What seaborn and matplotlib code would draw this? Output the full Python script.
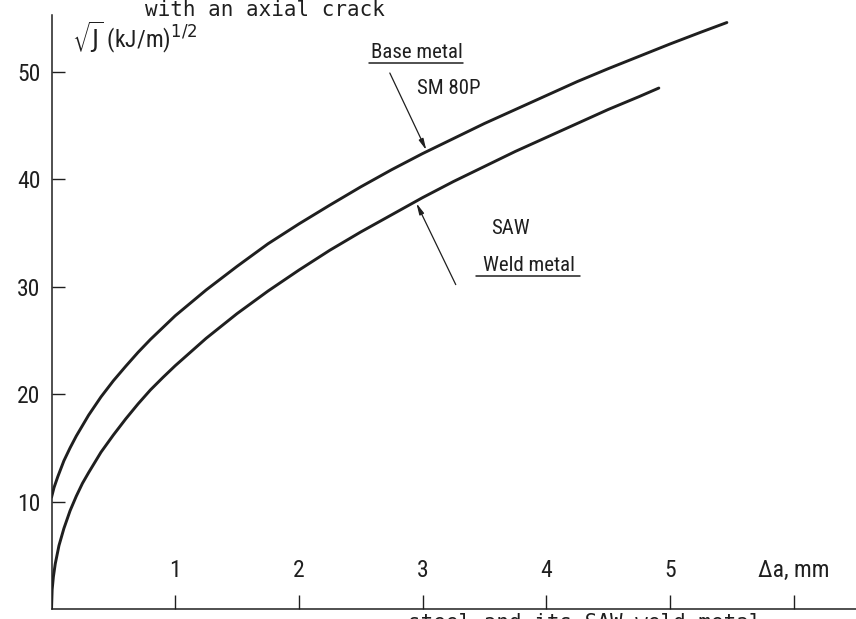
import numpy as np
import matplotlib
matplotlib.use("Agg")
import matplotlib.pyplot as plt
from matplotlib import font_manager as fm
from matplotlib.lines import Line2D
import seaborn as sns

# R-curves: crack extension (mm) against sqrt(J) in (kJ/m)^1/2
base_da = [0, 0.02, 0.05, 0.1, 0.15, 0.2, 0.3, 0.4, 0.5, 0.6, 0.7, 0.8, 0.9,
           1.0, 1.25, 1.5, 1.75, 2.0, 2.25, 2.5, 2.75, 3.0, 3.25, 3.5, 3.75,
           4.0, 4.25, 4.5, 4.75, 5.0, 5.25, 5.46]
base_sqrtj = [10.4, 11.3, 12.3, 13.8, 15.0, 16.1, 18.05, 19.75, 21.25, 22.6,
              23.9, 25.1, 26.2, 27.3, 29.7, 31.9, 34.0, 35.85, 37.6, 39.3, 40.9,
              42.4, 43.8, 45.2, 46.5, 47.8, 49.1, 50.3, 51.45, 52.6, 53.7, 54.6]

weld_da = [0, 0.005, 0.015, 0.03, 0.06, 0.1, 0.15, 0.2, 0.25, 0.3, 0.4, 0.5,
           0.6, 0.7, 0.8, 0.9, 1.0, 1.25, 1.5, 1.75, 2.0, 2.25, 2.5, 2.75, 3.0,
           3.25, 3.5, 3.75, 4.0, 4.25, 4.5, 4.75, 4.91]
weld_sqrtj = [0, 1.8, 3.0, 4.2, 5.9, 7.5, 9.15, 10.5, 11.7, 12.7, 14.6, 16.2,
              17.7, 19.1, 20.4, 21.55, 22.65, 25.2, 27.5, 29.6, 31.55, 33.4,
              35.1, 36.7, 38.3, 39.8, 41.2, 42.6, 43.9, 45.2, 46.5, 47.7, 48.5]

x_ticks = [1, 2, 3, 4, 5, 6]
x_tick_labels = ["1", "2", "3", "4", "5", "Δa, mm"]
y_ticks = [10, 20, 30, 40, 50]

INK = "#1f1f1f"

sns.set_theme(style="white", rc={"axes.edgecolor": INK, "axes.linewidth": 1.1,
                                 "xtick.color": INK, "ytick.color": INK,
                                 "text.color": INK, "axes.labelcolor": INK})


def font_present(name, stretch=None):
    for f in fm.fontManager.ttflist:
        if f.name == name and (stretch is None or f.stretch == stretch):
            return True
    return False


# narrow lettering for the drawing labels
if font_present("Roboto Condensed"):
    plt.rcParams["font.family"] = ["Roboto Condensed", "DejaVu Sans"]
elif font_present("DejaVu Sans", "condensed"):
    plt.rcParams["font.family"] = ["DejaVu Sans"]
    plt.rcParams["font.stretch"] = "condensed"
elif font_present("Liberation Sans Narrow"):
    plt.rcParams["font.family"] = ["Liberation Sans Narrow", "DejaVu Sans"]
else:
    plt.rcParams["font.family"] = ["DejaVu Sans"]

FS = 15
TICK_FS = 17

fig = plt.figure(figsize=(8.56, 6.19), dpi=100)
fig.patch.set_facecolor("white")
ax = fig.add_axes([0.0602, 0.01616, 0.9398, 0.9596])
ax.set_facecolor("white")

sns.lineplot(x=base_da, y=base_sqrtj, ax=ax, color=INK, linewidth=2.1,
             sort=False, estimator=None)
sns.lineplot(x=weld_da, y=weld_sqrtj, ax=ax, color=INK, linewidth=2.1,
             sort=False, estimator=None)

ax.set_xlim(0, 6.504)
ax.set_ylim(0, 55.3)
sns.despine(ax=ax)
ax.spines["left"].set_color(INK)
ax.spines["bottom"].set_color(INK)

ax.set_xticks(x_ticks, x_tick_labels)
ax.set_yticks(y_ticks)
ax.tick_params(axis="x", bottom=True, direction="in", length=10, width=1.0,
               pad=-36, labelsize=TICK_FS)
ax.tick_params(axis="y", left=True, direction="in", length=9, width=1.0,
               pad=8, labelsize=TICK_FS)
ax.set_xlabel("")
ax.set_ylabel(r"$\sqrt{\mathrm{J}}$ (kJ/m)$^{1/2}$", rotation=0,
              fontsize=17, ha="center", va="center")
ax.yaxis.set_label_coords(0.103, 0.962)

# curve labels with leader arrows
arrow = dict(arrowstyle="-|>,head_length=0.55,head_width=0.12", lw=0.9,
             color=INK, shrinkA=0, shrinkB=0)
tip_b = 3.03
ax.annotate("", xy=(tip_b, np.interp(tip_b, base_da, base_sqrtj) + 0.15),
            xytext=(2.735, 49.9), arrowprops=arrow)
tip_w = 2.95
ax.annotate("", xy=(tip_w, np.interp(tip_w, weld_da, weld_sqrtj) - 0.2),
            xytext=(3.268, 30.2), arrowprops=arrow)

t_base = ax.text(2.95, 51.8, "Base metal", fontsize=FS, ha="center", va="center")
ax.text(3.209, 48.5, "SM 80P", fontsize=FS, ha="center", va="center")
ax.text(3.71, 35.4, "SAW", fontsize=FS, ha="center", va="center")
t_weld = ax.text(3.86, 32.0, "Weld metal", fontsize=FS, ha="center", va="center")

# caption lines of the figure page
mono = dict(family="DejaVu Sans Mono", fontsize=15, stretch="normal")
fig.text(265 / 856, 1 - 10 / 619, "with an axial crack", ha="center",
         va="center", **mono)
fig.text(762 / 856, 1 - 613 / 619, "steel and its SAW weld metal", ha="right",
         va="top", **mono)

# underline the two material names
fig.canvas.draw()
inv = fig.transFigure.inverted()
for txt, left_extra, right_extra in ((t_base, 2, 1), (t_weld, 7, 5)):
    bb = txt.get_window_extent()
    y = bb.y0 - 1
    (x0, y0), (x1, _) = inv.transform([(bb.x0 - left_extra, y), (bb.x1 + right_extra, y)])
    fig.add_artist(Line2D([x0, x1], [y0, y0], transform=fig.transFigure,
                          color=INK, lw=1.1))

fig.savefig("out.png", dpi=100, facecolor="white")
